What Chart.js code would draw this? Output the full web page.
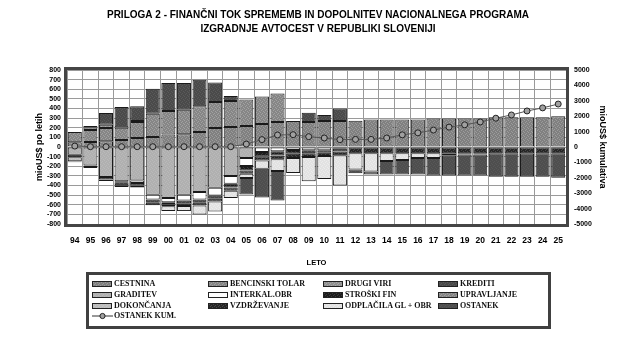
<!DOCTYPE html>
<html>
<head>
<meta charset="utf-8">
<script src="https://cdn.jsdelivr.net/npm/chart.js@4/dist/chart.umd.min.js"></script>
<style>
  body { margin: 0; background: #fff; }
  #wrap { position: relative; width: 636px; height: 343px; }
  #legend { position: absolute; left: 86px; top: 272px; width: 465px; height: 57px;
            border: 3px solid #404040; box-sizing: border-box; }
  .item { position: absolute; height: 10px; font: bold 8px "Liberation Serif", serif;
          line-height: 10px; white-space: nowrap; color: #111; }
  .sw { position: absolute; left: 0; top: 2px; width: 18px; height: 4px; border: 1px solid #222; }
  .txt { position: absolute; left: 22px; top: 0; }
</style>
</head>
<body>
<div id="wrap">
  <canvas id="chart" width="636" height="343"></canvas>
  <div id="legend"></div>
</div>
<script>
'use strict';

// leta 1994 - 2025
const years = ['94', '95', '96', '97', '98', '99', '00', '01', '02', '03', '04', '05', '06', '07', '08', '09',
               '10', '11', '12', '13', '14', '15', '16', '17', '18', '19', '20', '21', '22', '23', '24', '25'];

// viri (pozitivno, mio US$ po letih)
const cestnina = [50, 52, 59, 73, 94, 105, 131, 133, 157, 198, 208, 219, 239, 260, 271, 260,
                  271, 271, 274, 285, 285, 285, 285, 295, 295, 295, 295, 309, 309, 309, 309, 319];
const bencinskiTolar = [106, 125, 139, 127, 165, 240, 244, 255, 266, 270, 271, 274, 285, 295, null, null,
                        null, null, null, null, null, null, null, null, null, null, null, null, null, null, null, null];
const drugiViri = [null, 25, 34, 5, 12, null, null, null, null, null, null, null, null, null, null, null,
                   null, null, null, null, null, null, null, null, null, null, null, null, null, null, null, null];
const krediti = [null, 17, 122, 211, 152, 260, 291, 278, 277, 202, 52, null, null, null, null, 97,
                 62, 128, null, null, null, null, null, null, null, null, null, null, null, null, null, null];

// porabe (negativno)
const graditev = [-80, -192, -312, -357, -347, -496, -531, -496, -468, -423, -302, -115, null, null, null, null,
                  null, null, null, null, null, null, null, null, null, null, null, null, null, null, null, null];
const interkalObr = [null, null, null, -10, -28, -49, -42, -59, -77, -80, -80, -83, -52, -45, -30, -35,
                     -35, -17, null, null, null, null, null, null, null, null, null, null, null, null, null, null];
const stroskiFin = [-27, -15, -25, -30, -25, -35, -22, -34, -35, -35, -40, -45, -47, -43, -40, -29,
                    -24, -30, null, null, null, null, null, null, null, null, null, null, null, null, null, null];
const upravljanje = [null, null, null, null, null, null, null, null, null, null, null, null, null, null, null, null,
                     null, null, null, null, null, null, null, null, null, null, null, null, null, null, null, null];
const dokoncanja = [-42, null, null, null, null, null, null, null, null, null, null, null, null, null, null, null,
                    null, null, null, null, null, null, null, null, null, null, null, null, null, null, null, null];
const vzdrzevanje = [-3, -10, -15, -18, -20, -25, -20, -25, -27, -28, -33, -35, -40, -40, -45, -40,
                     -35, -40, -65, -65, -65, -65, -65, -65, -65, -65, -65, -65, -65, -65, -65, -65];
const odplacila = [-7, null, null, null, null, null, -50, -52, -93, -104, -76, -45, -87, -122, -156, -253,
                   -239, -312, -170, -190, -80, -70, -50, -50, -22, -12, -12, null, null, null, null, null];
const ostanek = [null, null, null, null, null, null, null, null, null, null, null, -170, -298, -305, null, null,
                 null, null, -39, -30, -140, -150, -170, -180, -208, -218, -218, -244, -244, -244, -244, -254];

// kumulativni ostanek (desna os)
const ostanekKum = [60, 20, 20, 20, 20, 20, 20, 20, 20, 20, 20, 190, 480, 780, 800, 670,
                    585, 475, 495, 495, 585, 790, 920, 1100, 1290, 1440, 1625, 1870, 2080, 2340, 2540, 2790];

// pikčasti vzorec kot v izvirniku
function stipple(base, dot) {
    const tile = document.createElement('canvas');
    tile.width = tile.height = 4;
    const g = tile.getContext('2d');
    g.fillStyle = base;
    g.fillRect(0, 0, 4, 4);
    g.fillStyle = dot;
    [[0, 0], [2, 1], [1, 2], [3, 3]].forEach((p) => g.fillRect(p[0], p[1], 1, 1));
    return tile;
}
const patCtx = document.createElement('canvas').getContext('2d');
function fill(tile) {
    return { tile, pattern: patCtx.createPattern(tile, 'repeat') };
}

const series = [
    ['CESTNINA', cestnina, fill(stipple('#808080', '#9c9c9c'))],
    ['BENCINSKI TOLAR', bencinskiTolar, fill(stipple('#868686', '#a2a2a2'))],
    ['DRUGI VIRI', drugiViri, fill(stipple('#909090', '#aaaaaa'))],
    ['KREDITI', krediti, fill(stipple('#4a4a4a', '#5a5a5a'))],
    ['GRADITEV', graditev, fill(stipple('#b0b0b0', '#bababa'))],
    ['INTERKAL.OBR', interkalObr, fill(stipple('#ffffff', '#ffffff'))],
    ['STROŠKI FIN', stroskiFin, fill(stipple('#1c1c1c', '#3a3a3a'))],
    ['UPRAVLJANJE', upravljanje, fill(stipple('#868686', '#a2a2a2'))],
    ['DOKONČANJA', dokoncanja, fill(stipple('#bcbcbc', '#c6c6c6'))],
    ['VZDRŽEVANJE', vzdrzevanje, fill(stipple('#262626', '#4a4a4a'))],
    ['ODPLAČILA GL +  OBR', odplacila, fill(stipple('#e2e2e2', '#ececec'))],
    ['OSTANEK', ostanek, fill(stipple('#4e4e4e', '#585858'))],
];

const datasets = series.map(([label, data, f]) => ({
    type: 'bar',
    label,
    data,
    backgroundColor: f.pattern,
    borderColor: '#1a1a1a',
    borderWidth: 1,
    borderSkipped: false,
    stack: 'leto',
    yAxisID: 'y',
    barPercentage: 0.9,
    categoryPercentage: 1,
}));
datasets.push({
    type: 'line',
    label: 'OSTANEK KUM.',
    data: ostanekKum,
    yAxisID: 'y2',
    order: -1,
    borderColor: '#555',
    borderWidth: 1,
    pointRadius: 3,
    pointBackgroundColor: '#a0a0a0',
    pointBorderColor: '#222',
    pointBorderWidth: 1,
    tension: 0,
});

// debel okvir okrog risalne površine
const framePlugin = {
    id: 'frame',
    afterDraw(chart) {
        const a = chart.chartArea;
        const ctx = chart.ctx;
        ctx.save();
        ctx.strokeStyle = '#454545';
        ctx.lineWidth = 3;
        ctx.strokeRect(a.left - 1.5, a.top - 1.5, a.right - a.left + 3, a.bottom - a.top + 3);
        ctx.restore();
    },
};

Chart.defaults.font.family = '"Liberation Sans", Arial, sans-serif';
Chart.defaults.color = '#000';

const chart = new Chart(document.getElementById('chart').getContext('2d'), {
    data: { labels: years, datasets },
    plugins: [framePlugin],
    options: {
        responsive: false,
        animation: false,
        layout: { padding: { left: 0, right: 0, top: 0, bottom: 69 } },
        plugins: {
            legend: { display: false },
            tooltip: { enabled: false },
            title: {
                display: true,
                text: ['PRILOGA 2 - FINANČNI TOK SPREMEMB IN DOPOLNITEV NACIONALNEGA PROGRAMA',
                       'IZGRADNJE AVTOCEST V REPUBLIKI SLOVENIJI'],
                font: { size: 10, weight: 'bold', lineHeight: 1.43 },
                padding: { top: 8, bottom: 33.4 },
                color: '#000',
            },
        },
        scales: {
            x: {
                stacked: true,
                afterFit(scale) { scale.height = 50; },
                grid: { color: '#9a9a9a', offset: true, drawTicks: false },
                border: { display: false },
                ticks: { font: { size: 8.5, weight: 'bold' }, padding: 12, maxRotation: 0, autoSkip: false },
                title: { display: true, text: 'LETO', font: { size: 7.5, weight: 'bold' }, padding: { top: 0, bottom: 6.5 } },
            },
            y: {
                stacked: true,
                position: 'left',
                min: -800,
                max: 800,
                afterFit(scale) { scale.width = 67; },
                grid: { color: '#9a9a9a', drawTicks: false },
                border: { display: false },
                ticks: { stepSize: 100, autoSkip: false, font: { size: 7, weight: 'bold' }, padding: 6 },
                title: { display: true, text: 'mioUS$ po letih', font: { size: 9, weight: 'bold' }, padding: { top: 34.6 } },
            },
            y2: {
                position: 'right',
                min: -5000,
                max: 5000,
                afterFit(scale) { scale.width = 70; },
                grid: { drawOnChartArea: false, drawTicks: false },
                border: { display: false },
                ticks: { stepSize: 1000, autoSkip: false, font: { size: 7, weight: 'bold' }, padding: 8, callback: (v) => String(v) },
                title: { display: true, text: 'mioUS$ kumulativa', font: { size: 9, weight: 'bold' }, padding: { top: 27.9 } },
            },
        },
    },
});

// legenda v štirih stolpcih, zgrajena iz podatkov grafa
const legend = document.getElementById('legend');
const cols = [3, 119, 234, 349];
const rows = [4, 14.5, 25.5, 36];
chart.data.datasets.forEach((ds, i) => {
    const item = document.createElement('div');
    item.className = 'item';
    item.style.left = cols[i % 4] + 'px';
    item.style.top = rows[Math.floor(i / 4)] + 'px';
    let swatch;
    if (ds.type === 'line') {
        swatch = '<svg class="sw" style="border:none;top:0;width:21px;height:10px" width="21" height="10">' +
            '<line x1="0" y1="5" x2="21" y2="5" stroke="#333" stroke-width="1"/>' +
            '<circle cx="10.5" cy="5" r="2.6" fill="#a0a0a0" stroke="#222" stroke-width="1"/></svg>';
    } else {
        const url = series[i][2].tile.toDataURL();
        swatch = '<div class="sw" style="background-image:url(' + url + ')"></div>';
    }
    item.innerHTML = swatch + '<span class="txt">' + ds.label + '</span>';
    legend.appendChild(item);
});
</script>
</body>
</html>
